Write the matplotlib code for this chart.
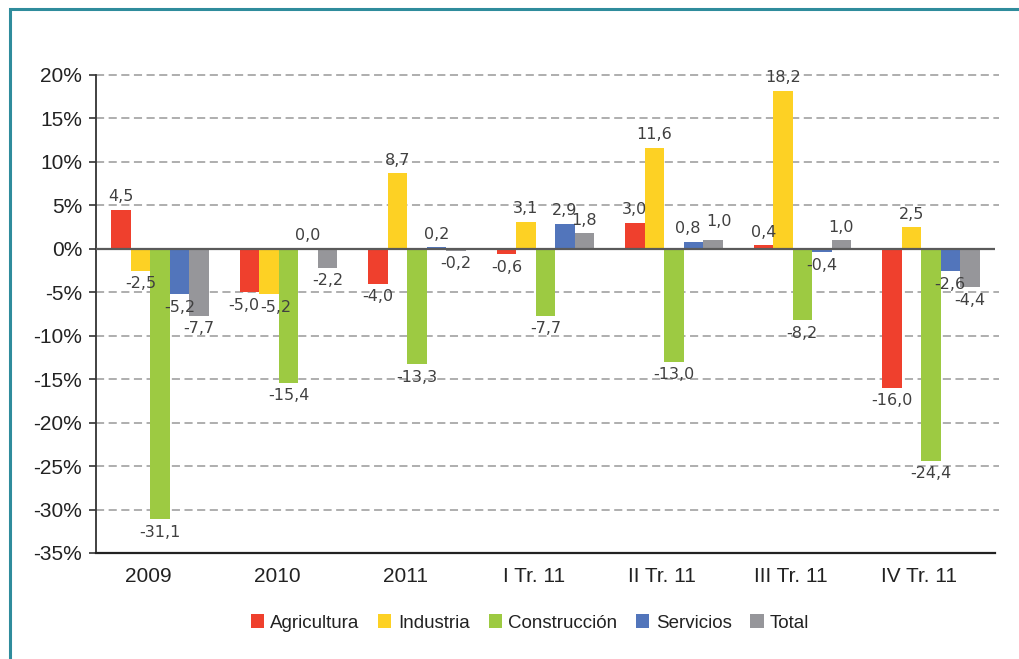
import numpy as np
import matplotlib.pyplot as plt
from matplotlib.patches import Rectangle
from matplotlib.ticker import FuncFormatter

categories = ["2009", "2010", "2011", "I Tr. 11", "II Tr. 11", "III Tr. 11", "IV Tr. 11"]
series = ["Agricultura", "Industria", "Construcción", "Servicios", "Total"]
agricultura = [4.5, -5.0, -4.0, -0.6, 3.0, 0.4, -16.0]
industria = [-2.5, -5.2, 8.7, 3.1, 11.6, 18.2, 2.5]
construccion = [-31.1, -15.4, -13.3, -7.7, -13.0, -8.2, -24.4]
servicios = [-5.2, 0.04, 0.2, 2.9, 0.8, -0.4, -2.6]
total = [-7.7, -2.2, -0.2, 1.8, 1.0, 1.0, -4.4]

COLORS = ["#EF402D", "#FDD124", "#9DCA42", "#5275BB", "#96969A"]
values = [agricultura, industria, construccion, servicios, total]

# a few crowded labels are pushed sideways, as in the original (points)
NUDGE = {(0, 1): (-4, 0), (1, 1): (5, 0), (3, 4): (-4, 0), (4, 4): (4, 4)}

fig = plt.figure(figsize=(10.19, 6.59), dpi=100)
ax = fig.add_axes([96 / 1019, 1 - 553 / 659, 899 / 1019, 478 / 659])

# teal frame around the chart (runs off the right/bottom edge)
fig.patches.append(Rectangle((10 / 1019, -0.1), 1.2, 1 - 9 / 659 + 0.1,
                             transform=fig.transFigure, fill=False,
                             edgecolor="#2F8C9C", linewidth=2.2))

x = np.arange(len(categories))
w = 0.152
for k, (name, vals, col) in enumerate(zip(series, values, COLORS)):
    pos = x + (k - 2) * w
    ax.bar(pos, vals, width=w, color=col, label=name, zorder=3)
    for i, (px, v) in enumerate(zip(pos, vals)):
        txt = f"{abs(v):.1f}".replace(".", ",")
        if v < 0:
            txt = "-" + txt
        dx, dy = NUDGE.get((k, i), (0, 0))
        off = 4 if v >= 0 else -4
        ax.annotate(txt, (px, v), xytext=(dx, off + dy), textcoords="offset points",
                    ha="center", va="bottom" if v >= 0 else "top",
                    fontsize=11.5, color="#404040", family="DejaVu Sans",
                    zorder=4)

ax.set_xlim(-0.5, len(categories) - 0.5)
ax.set_ylim(-35, 20)
ax.set_yticks(np.arange(-35, 21, 5))
ax.yaxis.set_major_formatter(FuncFormatter(lambda v, p: f"{v:.0f}%"))
for yv in np.arange(-30, 21, 5):
    if yv != 0:
        ax.axhline(yv, color="#A8A8A8", lw=1.3, ls=(0, (4.5, 2.5)), zorder=1,
                   xmax=1.005, clip_on=False)
ax.axhline(0, color="#5A5A5A", lw=1.6, zorder=5)

# category labels sit a little left of the bar groups in the original
ax.set_xticks(x - 0.09)
ax.set_xticklabels(categories)
ax.tick_params(axis="x", length=0, pad=10, labelsize=15, labelcolor="#222222")
ax.tick_params(axis="y", length=5, width=1.2, color="#333333", pad=5,
               labelsize=15, labelcolor="#222222")
for lbl in ax.get_xticklabels() + ax.get_yticklabels():
    lbl.set_family("Liberation Sans")

for s in ["top", "right"]:
    ax.spines[s].set_visible(False)
ax.spines["left"].set_color("#333333")
ax.spines["left"].set_linewidth(1.3)
ax.spines["bottom"].set_color("#222222")
ax.spines["bottom"].set_linewidth(1.6)

leg = fig.legend(loc="center", bbox_to_anchor=(530 / 1019, 1 - 623 / 659),
                 ncol=5, frameon=False, handlelength=0.7, handleheight=0.7,
                 handletextpad=0.35, columnspacing=1.0,
                 prop={"family": "Liberation Sans", "size": 13.5})
for t in leg.get_texts():
    t.set_color("#222222")

fig.savefig("out.png", dpi=100, facecolor="white")
